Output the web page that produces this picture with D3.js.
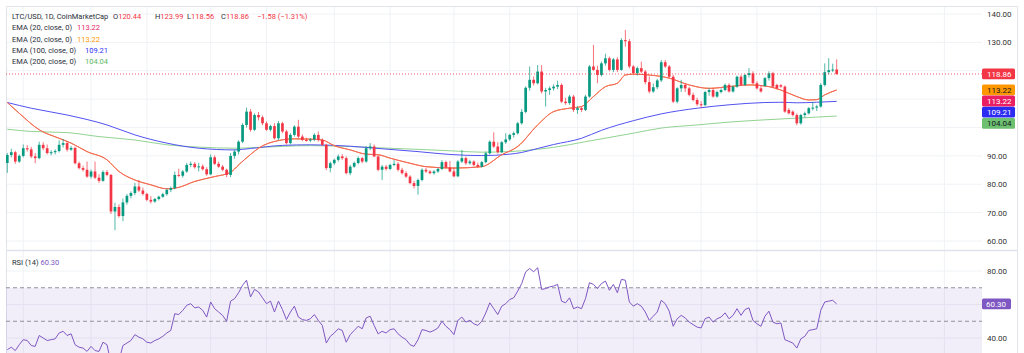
<!DOCTYPE html>
<html>
<head>
<meta charset="utf-8">
<script src="https://cdn.jsdelivr.net/npm/d3@7"></script>
<style>
  html, body { margin: 0; padding: 0; background: #fff; }
  svg { display: block; font-family: Roboto, "Noto Sans", sans-serif; }
</style>
</head>
<body>
<div id="chart"></div>
<script>
// ---- data (daily LTC/USD candles, first day below) ----
const firstDay = '2025-03-11';

const opens = [
  87.5,90.3,91.3,88.0,90.0,92.7,92.3,89.8,89.2,93.9,
  92.7,91.0,91.3,91.7,93.9,94.5,92.2,92.8,87.4,85.7,
  85.1,82.7,84.5,82.3,81.2,84.3,83.3,70.4,72.0,68.8,
  73.6,75.9,76.9,79.2,77.8,76.6,74.5,73.9,74.8,75.6,
  76.5,78.0,78.6,83.3,83.0,84.5,86.8,87.2,86.0,86.3,
  85.3,83.5,89.5,87.2,86.2,85.1,83.3,90.0,91.5,95.0,
  100.9,105.6,99.2,104.4,103.6,101.5,99.2,100.5,96.2,101.5,
  98.6,94.5,97.4,100.3,96.8,95.6,95.4,95.8,97.4,95.6,
  93.9,85.7,87.4,88.6,89.8,89.2,83.9,86.2,87.5,89.2,
  88.0,92.7,93.3,89.8,85.1,86.2,85.4,86.8,87.2,85.1,
  83.9,82.7,80.4,79.4,81.5,85.1,84.5,83.9,84.5,85.4,
  87.8,85.9,84.5,82.8,88.0,89.2,87.4,88.0,86.8,86.2,
  87.8,90.9,95.0,93.3,91.3,94.8,95.8,97.4,98.0,101.5,
  105.5,114.0,116.8,115.6,119.7,112.7,113.2,113.8,114.4,115.0,
  109.1,108.6,110.9,106.2,106.8,106.2,110.9,121.5,120.3,118.5,
  122.6,124.4,120.3,124.0,120.3,130.8,130.4,121.5,119.2,120.9,
  119.7,116.0,112.7,114.2,116.6,123.0,121.5,117.9,109.1,113.8,
  115.0,113.8,111.5,109.7,108.2,107.9,112.5,113.2,110.9,112.5,
  113.2,115.0,112.7,114.4,117.9,115.0,118.5,119.1,115.6,113.8,
  114.6,117.4,119.1,115.0,114.9,114.4,106.2,105.6,104.4,101.5,
  104.4,105.0,106.8,107.0,107.4,115.0,119.5,120.2,120.44
];
const highs = [
  91.0,92.5,91.8,90.5,94.0,93.8,93.2,91.0,95.0,94.8,
  94.0,92.0,92.3,95.5,96.0,95.2,93.5,93.2,88.0,86.5,
  88.0,85.2,88.0,83.5,84.9,85.0,83.6,73.5,73.0,75.0,
  76.6,77.5,80.5,81.5,78.8,77.0,75.8,75.2,76.0,77.0,
  78.5,79.2,84.5,85.5,85.0,87.5,88.0,87.8,87.5,87.0,
  86.0,90.5,90.2,88.0,86.8,85.5,91.0,92.3,95.5,101.5,
  107.0,106.5,105.0,105.5,104.2,102.2,101.0,101.5,102.3,102.0,
  99.2,98.0,100.8,102.7,97.5,96.4,96.3,98.0,98.6,96.2,
  94.3,88.0,89.0,90.5,90.6,89.8,86.8,88.0,89.8,89.6,
  93.5,94.5,94.0,90.2,86.8,86.8,87.2,88.5,87.8,85.8,
  84.6,83.2,81.2,82.0,85.6,85.8,85.0,85.0,85.8,88.5,
  88.3,88.2,86.0,88.5,92.1,89.8,88.6,88.4,87.6,88.2,
  91.5,95.5,98.3,94.8,95.2,98.0,97.8,98.6,102.0,106.5,
  114.5,121.5,118.0,122.0,122.0,114.0,114.5,115.2,116.5,115.6,
  110.5,111.5,111.5,107.5,107.3,111.5,122.0,129.1,121.8,123.2,
  126.0,125.0,124.5,124.8,131.5,134.4,131.2,122.0,121.5,123.2,
  120.3,118.0,115.5,117.2,123.8,123.8,122.0,118.5,114.2,116.8,
  115.5,114.3,112.3,110.5,109.3,112.9,114.0,114.0,113.0,113.8,
  115.5,115.6,114.8,118.3,118.5,118.9,120.9,119.8,116.3,115.0,
  117.8,119.8,119.6,115.4,115.3,114.8,106.8,106.0,105.0,104.8,
  105.6,107.2,109.0,108.0,115.6,122.6,124.4,122.5,123.99
];
const lows = [
  84.0,89.5,87.2,87.5,89.5,91.5,89.2,87.4,88.8,92.0,
  90.5,90.2,90.5,91.2,93.0,91.5,91.8,87.0,85.2,84.5,
  82.3,82.0,81.8,80.5,80.9,82.8,69.5,63.8,68.2,67.0,
  72.8,75.0,76.2,77.2,76.0,74.0,73.2,73.5,74.3,75.2,
  76.0,77.2,78.2,82.5,82.3,84.0,86.0,85.5,84.5,84.8,
  83.0,83.2,86.8,85.8,84.6,82.5,82.5,89.0,90.5,94.5,
  100.0,98.5,98.8,102.5,100.8,98.8,98.6,95.8,95.5,98.0,
  94.0,94.0,96.8,96.2,95.2,95.0,94.8,95.2,95.0,93.5,
  85.0,84.2,86.8,88.0,88.6,83.5,83.2,85.8,87.0,87.4,
  87.6,92.0,89.5,84.6,81.5,84.8,85.0,86.4,84.5,83.4,
  82.2,80.0,78.5,76.3,81.0,84.0,83.5,83.4,84.0,85.0,
  85.5,84.2,82.5,82.5,87.5,86.8,86.9,86.4,85.8,85.9,
  87.4,90.5,92.8,90.8,91.0,94.2,95.3,96.5,97.5,101.0,
  105.0,113.0,114.8,115.2,112.0,107.4,111.5,113.0,113.5,108.6,
  108.0,108.0,105.5,104.8,105.5,105.8,110.5,120.0,115.6,118.0,
  121.8,119.8,119.5,119.5,120.0,128.5,120.8,118.8,118.3,119.2,
  115.2,112.0,112.2,113.5,116.0,121.0,117.5,108.6,108.5,112.5,
  112.5,111.0,109.2,107.6,107.0,107.5,111.2,110.5,110.5,112.0,
  112.8,112.3,112.3,114.0,114.7,114.6,117.6,115.2,113.4,112.3,
  114.5,116.5,114.0,113.4,114.0,105.2,104.6,103.9,100.8,101.0,
  103.5,104.6,106.0,105.8,107.0,114.5,118.6,119.5,118.56
];
const closes = [
  90.3,91.3,88.0,90.0,92.7,92.3,89.8,89.2,93.9,92.7,
  91.0,91.3,91.7,93.9,94.5,92.2,92.8,87.4,85.7,85.1,
  82.7,84.5,82.3,81.2,84.3,83.3,70.4,72.0,68.8,73.6,
  75.9,76.9,79.2,77.8,76.6,74.5,73.9,74.8,75.6,76.5,
  78.0,78.6,83.3,83.0,84.5,86.8,87.2,86.0,86.3,85.3,
  83.5,89.5,87.2,86.2,85.1,83.3,90.0,91.5,95.0,100.9,
  105.6,99.2,104.4,103.6,101.5,99.2,100.5,96.2,101.5,98.6,
  94.5,97.4,100.3,96.8,95.6,95.4,95.8,97.4,95.6,93.9,
  85.7,87.4,88.6,89.8,89.2,83.9,86.2,87.5,89.2,88.0,
  92.7,93.3,89.8,85.1,86.2,85.4,86.8,87.2,85.1,83.9,
  82.7,80.4,79.4,81.5,85.1,84.5,83.9,84.5,85.4,87.8,
  85.9,84.5,82.8,88.0,89.2,87.4,88.0,86.8,86.2,87.8,
  90.9,95.0,93.3,91.3,94.8,95.8,97.4,98.0,101.5,105.5,
  114.0,116.8,115.6,119.7,112.7,113.2,113.8,114.4,115.0,109.1,
  108.6,110.9,106.2,106.8,106.2,110.9,121.5,120.3,118.5,122.6,
  124.4,120.3,124.0,120.3,130.8,130.4,121.5,119.2,120.9,119.7,
  116.0,112.7,114.2,116.6,123.0,121.5,117.9,109.1,113.8,115.0,
  113.8,111.5,109.7,108.2,107.9,112.5,113.2,110.9,112.5,113.2,
  115.0,112.7,114.4,117.9,115.0,118.5,119.1,115.6,113.8,112.7,
  117.4,119.1,114.4,113.8,114.4,105.6,105.0,104.4,101.5,104.4,
  105.0,106.8,107.0,107.4,115.0,119.5,120.2,120.44,118.86
];
const rsiValues = [
  33,34.5,32.5,36,39,38.5,35.5,35,41.5,40,
  38.5,39,39.5,43,44,41.5,42.5,36,34.5,34,
  32,35,32.5,32,37.5,36,25,29,26.5,35.5,
  37,38.5,42,40.5,39.5,37.5,37,38.5,39.5,41,
  43,44.5,54.5,54,56.5,59.5,60.5,58,58.5,56.5,
  52.5,61.5,57.5,55.5,53.5,50,62,63.5,67,71.5,
  74.5,64.5,69,67.5,64,60.5,62,55.5,62,57,
  51,55.5,59,52.5,51,50.5,51.5,54,50.5,47.5,
  37,41,43,45.5,44.5,37.5,42,44.5,47,45.5,
  52,53,47.5,42.5,44,43,45,45.5,42.5,40.5,
  39,36,35,39,45,44.5,43.5,44.5,46,50,
  47,45,42,50.5,52.5,49.5,50.5,48.5,47.5,50,
  55,61,57.5,54,59,60.5,63,64,68,72.5,
  79.5,81.5,79.5,82,69,69.5,70.5,71,72,62,
  61,64,57.5,58.5,57.5,63.5,73,72,69.5,72.5,
  74,68.5,72,67,75,74.5,61.5,59,60.5,59,
  55.5,50.5,53,55.5,62.5,60.5,56,47,51.5,53.5,
  52,49.5,48,46.5,46,51.5,52.5,49.5,51.5,52.5,
  55,51.5,53.5,57.5,53.5,57,58,50.5,48.5,47,
  53,56,49.5,48.5,49,39,38,37,34,39.5,
  41,44.5,45,45.5,56.5,61.5,62,62.5,60.3
];

// EMA lines, read at sample days (day number counted from firstDay)
const ema20Day = [0,3,8,13,16,20,25,28,32,36,40,43,47,52,56,58,61,63,68,72,76,79,82,86,90,93,96,101,105,112,
  119,124,128,133,137,141,144,147,150,153,155,157,161,166,171,176,181,186,191,194,198,201,203,205,208];
const ema20Val = [108.8,105,99.2,96.2,94.5,91.5,88.6,84.5,81.5,79.8,78.4,78.9,81,82.7,84.2,86.8,90.5,92.7,95.4,96,
  95.9,95.6,93.6,92.1,90.6,90.4,89.2,87.4,86.2,85.7,86.2,90.4,93.3,100.9,105.6,106.8,107.4,110.9,114.4,115.6,
  118.5,118.8,118.5,117.4,115,113.8,114.4,115,114.4,113.2,110.9,109.7,109.8,111.5,113.22];
const ema100Day = [0,6,15,25,32,40,48,57,61,69,76,86,94,103,111,119,126,129,133,137,144,149,157,164,173,181,190,194,198,203,208];
const ema100Val = [108.8,106.8,104.4,100.9,97.4,94.5,92.7,92.1,92.6,93.7,93.9,93.4,92.5,91.5,90.5,90.1,90.6,91.2,92.6,94.0,
  96.2,99.0,102.4,104.8,106.8,108.0,108.8,108.9,108.7,108.9,109.21];
const ema200Day = [0,6,15,23,32,40,48,57,63,76,86,94,103,111,119,126,129,137,145,157,164,173,181,190,198,208];
const ema200Val = [99.4,98.6,98.2,96.8,95.6,93.9,93.1,92.7,93.0,93.6,93.3,92.8,92.3,91.8,91.3,91.5,91.8,93.0,95.0,98.0,
  99.8,100.9,101.9,102.7,103.3,104.04];

const priceTicks = [60, 70, 80, 90, 100, 110, 120, 130, 140];
const rsiTicks = [40, 60, 80];
const rsiBands = [70, 50];

// ---- layout ----
const W = 1024, H = 353;
const paneL = 6, paneR = 982, frameR = 1017, frameT = 6, sepY = 250;
const green = '#089981', red = '#F23645';
const textCol = '#2a2e39', gridCol = '#f0f2f6', lineCol = '#e0e3eb';

const parse = d3.utcParse('%Y-%m-%d');
const day0 = parse(firstDay);
const dates = d3.utcDay.range(day0, d3.utcDay.offset(day0, closes.length));
const candles = dates.map((d, i) => ({ date: d, o: opens[i], h: highs[i], l: lows[i], c: closes[i], rsi: rsiValues[i] }));

const x = d3.scaleUtc().domain([dates[0], dates[dates.length - 1]]).range([7.3, 836.7]);
const y = d3.scaleLinear().domain([60, 140]).range([241, 14]);
const yR = d3.scaleLinear().domain([40, 80]).range([338, 271]);

const svg = d3.select('#chart').append('svg')
  .attr('width', W).attr('height', H)
  .style('background', '#fff');

const defs = svg.append('defs');
defs.append('clipPath').attr('id', 'clipMain').append('rect')
  .attr('x', paneL).attr('y', frameT).attr('width', paneR - paneL).attr('height', sepY - frameT);
defs.append('clipPath').attr('id', 'clipRsi').append('rect')
  .attr('x', paneL).attr('y', sepY).attr('width', paneR - paneL).attr('height', H - sepY);

/* grid: half-month date lines */
const gridDates = d3.utcMonth.range(parse('2025-03-01'), parse('2025-12-01'))
  .flatMap(m => [m, d3.utcDay.offset(m, 14)])
  .filter(d => x(d) > paneL && x(d) < paneR);

svg.append('g').selectAll('line')
  .data(gridDates).enter().append('line')
  .attr('x1', d => x(d)).attr('x2', d => x(d))
  .attr('y1', frameT).attr('y2', H)
  .attr('stroke', gridCol).attr('stroke-width', 1);

svg.append('g').selectAll('line')
  .data(priceTicks).enter().append('line')
  .attr('x1', paneL).attr('x2', paneR)
  .attr('y1', d => y(d)).attr('y2', d => y(d))
  .attr('stroke', gridCol);

svg.append('g').selectAll('line')
  .data(rsiTicks).enter().append('line')
  .attr('x1', paneL).attr('x2', paneR)
  .attr('y1', d => yR(d)).attr('y2', d => yR(d))
  .attr('stroke', gridCol);

/* frame */
svg.append('path')
  .attr('d', `M${paneL + 0.5},${H} V${frameT + 0.5} H${frameR + 0.5} V${H}`)
  .attr('fill', 'none').attr('stroke', lineCol);
svg.append('line')
  .attr('x1', paneL).attr('x2', frameR)
  .attr('y1', sepY + 0.5).attr('y2', sepY + 0.5)
  .attr('stroke', lineCol).attr('stroke-width', 1.5);

/* ---- main pane ---- */
const main = svg.append('g').attr('clip-path', 'url(#clipMain)');

const emaLine = (days, vals) => d3.line()
  .x(d => x(d3.utcDay.offset(day0, d)))
  .y((d, i) => y(vals[i]))
  .curve(d3.curveMonotoneX)(days);

main.append('path').attr('d', emaLine(ema200Day, ema200Val))
  .attr('fill', 'none').attr('stroke', '#92d392').attr('stroke-width', 1);
main.append('path').attr('d', emaLine(ema100Day, ema100Val))
  .attr('fill', 'none').attr('stroke', '#5252f2').attr('stroke-width', 1);
main.append('path').attr('d', emaLine(ema20Day, ema20Val))
  .attr('fill', 'none').attr('stroke', '#FF9800').attr('stroke-width', 1);
main.append('path').attr('d', emaLine(ema20Day, ema20Val))
  .attr('fill', 'none').attr('stroke', '#f2616f').attr('stroke-width', 1);

// candles
const bodyW = 2.7;
const cg = main.append('g');
cg.selectAll('line.wick')
  .data(candles).enter().append('line')
  .attr('class', 'wick')
  .attr('x1', d => x(d.date)).attr('x2', d => x(d.date))
  .attr('y1', d => y(d.h)).attr('y2', d => y(d.l))
  .attr('stroke', d => d.c >= d.o ? green : red)
  .attr('stroke-opacity', 0.7)
  .attr('stroke-width', 1);
cg.selectAll('rect.body')
  .data(candles).enter().append('rect')
  .attr('class', 'body')
  .attr('x', d => x(d.date) - bodyW / 2)
  .attr('y', d => y(Math.max(d.o, d.c)))
  .attr('width', bodyW)
  .attr('height', d => Math.max(1, Math.abs(y(d.o) - y(d.c))))
  .attr('fill', d => d.c >= d.o ? green : red);

// last price dotted line
const last = candles[candles.length - 1];
main.append('line')
  .attr('x1', paneL).attr('x2', paneR)
  .attr('y1', y(last.c)).attr('y2', y(last.c))
  .attr('stroke', red).attr('stroke-width', 1)
  .attr('stroke-dasharray', '1,2').attr('stroke-opacity', 0.8);

/* value labels on the price scale, pushed down so they don't overlap */
const fmt = d3.format('.2f');
const boxH = 11.2;
const valueLabels = [
  { v: last.c, fill: red, txt: '#fff' },
  { v: ema20Val[ema20Val.length - 1], fill: '#FF9800', txt: '#131722' },
  { v: ema20Val[ema20Val.length - 1], fill: '#E91E63', txt: '#fff' },
  { v: ema100Val[ema100Val.length - 1], fill: '#2b2bf2', txt: '#fff' },
  { v: ema200Val[ema200Val.length - 1], fill: '#6cc070', txt: '#131722' }
];
let prevY = -Infinity;
valueLabels.forEach(d => {
  d.cy = Math.max(y(d.v), prevY + boxH);
  prevY = d.cy;
});
const covered = (py, boxes) => boxes.some(b => Math.abs(py - b) < boxH / 2 + 3);

/* price scale */
const priceAxis = svg.append('g')
  .attr('transform', `translate(${paneR},0)`)
  .call(d3.axisRight(y)
    .tickValues(priceTicks.filter(t => !covered(y(t), valueLabels.map(d => d.cy))))
    .tickFormat(fmt).tickSize(0).tickPadding(5));
priceAxis.select('.domain').remove();
priceAxis.selectAll('text').attr('font-size', 8).attr('fill', '#333').attr('font-family', 'Roboto, sans-serif');

const vl = svg.append('g').selectAll('g').data(valueLabels).enter().append('g');
vl.append('rect')
  .attr('x', paneR).attr('y', d => d.cy - boxH / 2)
  .attr('width', 33).attr('height', boxH - 0.4).attr('rx', 1.5)
  .attr('fill', d => d.fill);
vl.append('text')
  .attr('x', paneR + 5).attr('y', d => d.cy + 0.3)
  .attr('dominant-baseline', 'central')
  .attr('font-size', 8).attr('fill', d => d.txt)
  .text(d => fmt(d.v));

/* legend */
const legend = svg.append('g').attr('font-size', 7.5).attr('fill', textCol);
const row1 = [
  { x: 12, k: 'LTC/USD, 1D, CoinMarketCap', v: '' },
  { x: 113, k: 'O', v: fmt(last.o) },
  { x: 155, k: 'H', v: fmt(last.h) },
  { x: 187, k: 'L', v: fmt(last.l) },
  { x: 221, k: 'C', v: fmt(last.c) },
  { x: 257, k: '', v: `\u2212${fmt(last.o - last.c)} (\u2212${fmt((last.o - last.c) / last.o * 100)}%)` }
];
row1.forEach(r => {
  const t = legend.append('text').attr('x', r.x).attr('y', 16).attr('dominant-baseline', 'central');
  t.append('tspan').text(r.k);
  t.append('tspan').attr('fill', red).text(r.v);
});
const emaRows = [
  { k: 'EMA (20, close, 0)', v: ema20Val[ema20Val.length - 1], c: '#E91E63', vx: 77 },
  { k: 'EMA (20, close, 0)', v: ema20Val[ema20Val.length - 1], c: '#FF9800', vx: 77 },
  { k: 'EMA (100, close, 0)', v: ema100Val[ema100Val.length - 1], c: '#3030f5', vx: 85 },
  { k: 'EMA (200, close, 0)', v: ema200Val[ema200Val.length - 1], c: '#5cb860', vx: 85 }
];
emaRows.forEach((r, i) => {
  const yy = 27.7 + i * 11.3;
  legend.append('text').attr('x', 12).attr('y', yy).attr('dominant-baseline', 'central').text(r.k);
  legend.append('text').attr('x', r.vx).attr('y', yy).attr('dominant-baseline', 'central')
    .attr('fill', r.c).text(fmt(r.v));
});

/* ---- RSI pane ---- */
const rsiG = svg.append('g').attr('clip-path', 'url(#clipRsi)');
rsiG.append('rect')
  .attr('x', paneL).attr('width', paneR - paneL)
  .attr('y', yR(70)).attr('height', yR(30) - yR(70))
  .attr('fill', 'rgba(126, 87, 194, 0.1)');
rsiG.selectAll('line.band')
  .data(rsiBands).enter().append('line')
  .attr('class', 'band')
  .attr('x1', paneL).attr('x2', paneR)
  .attr('y1', d => yR(d)).attr('y2', d => yR(d))
  .attr('stroke', '#787B86').attr('stroke-opacity', 0.8)
  .attr('stroke-dasharray', '4,3');
rsiG.append('path')
  .datum(candles)
  .attr('fill', 'none').attr('stroke', '#7E57C2').attr('stroke-width', 1)
  .attr('d', d3.line().x(d => x(d.date)).y(d => yR(d.rsi)));

const lastRsi = rsiValues[rsiValues.length - 1];
const rsiAxis = svg.append('g')
  .attr('transform', `translate(${paneR},0)`)
  .call(d3.axisRight(yR)
    .tickValues(rsiTicks.filter(t => !covered(yR(t), [yR(lastRsi)])))
    .tickFormat(fmt).tickSize(0).tickPadding(5));
rsiAxis.select('.domain').remove();
rsiAxis.selectAll('text').attr('font-size', 8).attr('fill', '#333').attr('font-family', 'Roboto, sans-serif');

svg.append('rect')
  .attr('x', paneR).attr('y', yR(lastRsi) - boxH / 2)
  .attr('width', 29).attr('height', boxH - 0.4).attr('rx', 1.5)
  .attr('fill', '#7E57C2');
svg.append('text')
  .attr('x', paneR + 4).attr('y', yR(lastRsi) + 0.3)
  .attr('dominant-baseline', 'central')
  .attr('font-size', 8).attr('fill', '#fff')
  .text(fmt(lastRsi));

const rsiLegend = svg.append('text').attr('x', 12).attr('y', 262)
  .attr('dominant-baseline', 'central').attr('font-size', 7.5).attr('fill', textCol);
rsiLegend.append('tspan').text('RSI (14) ');
rsiLegend.append('tspan').attr('fill', '#7E57C2').text(fmt(lastRsi));
</script>
</body>
</html>
